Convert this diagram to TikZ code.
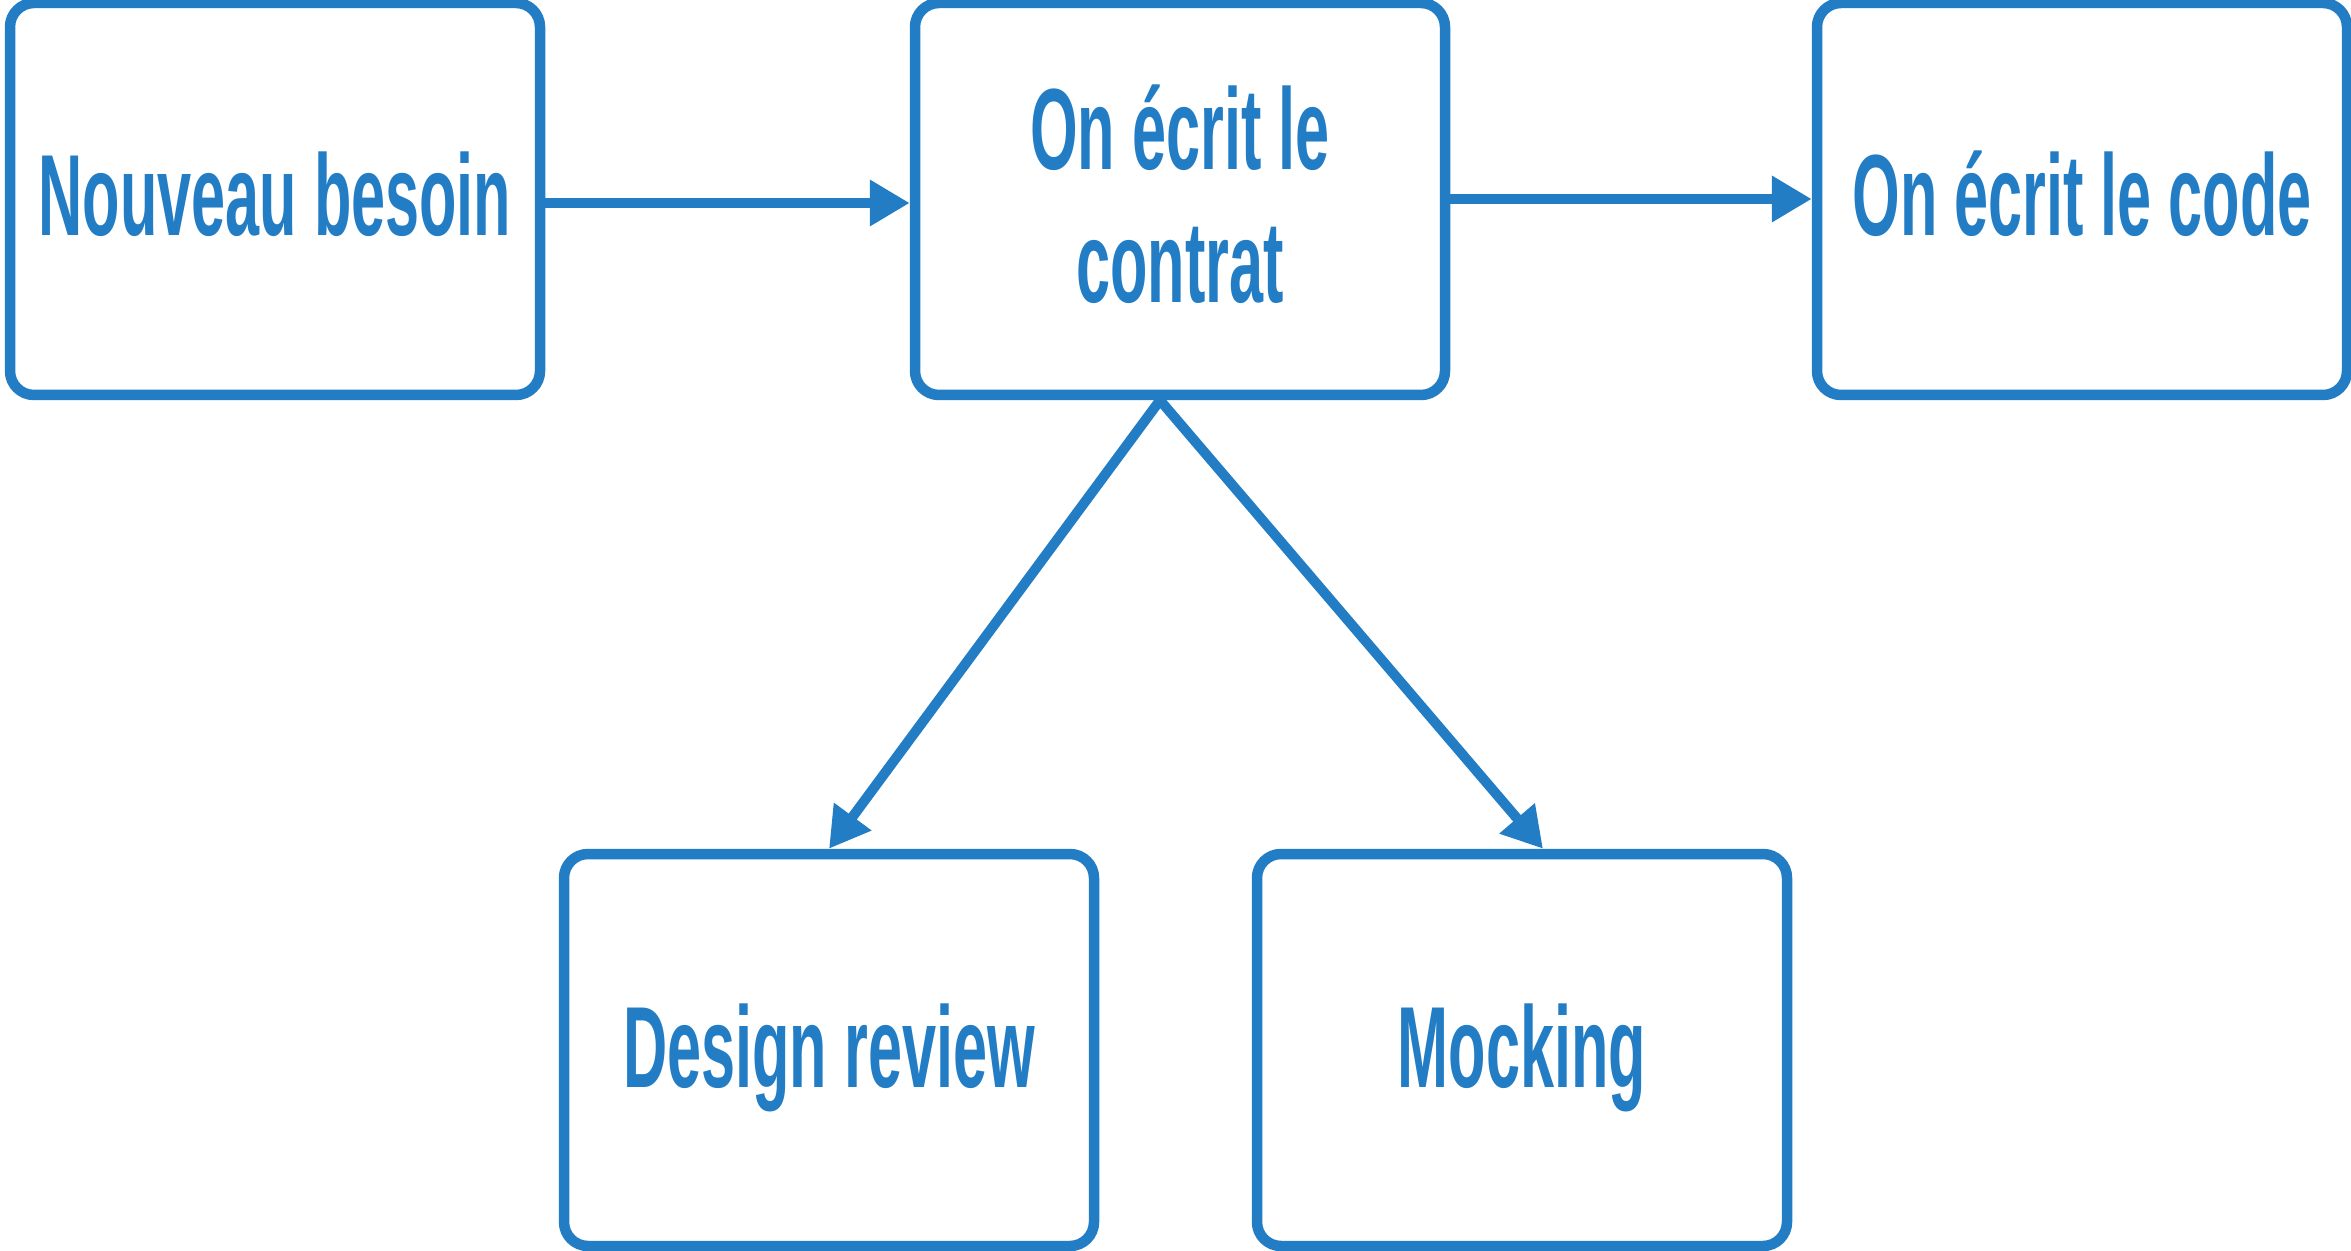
\documentclass[tikz,border=0pt]{standalone}
\usepackage{fontspec}
\usetikzlibrary{arrows.meta}
\newfontfamily\lblfont{Liberation Sans}[FakeStretch=0.53]
\definecolor{flowblue}{HTML}{237DC5}
\begin{document}
\begin{tikzpicture}[x=0.5pt,y=-0.5pt,
  box/.style={draw=flowblue, line width=5.25pt, rounded corners=12pt,
    minimum width=265pt, minimum height=196pt, inner sep=0pt,
    text=flowblue, font=\lblfont\bfseries\fontsize{57.75}{66.85}\selectfont,
    text height=37pt, text depth=0pt},
  flow/.style={draw=flowblue, line width=5pt,
    -{Triangle[length=20pt,width=22pt]}}]
\useasboundingbox (0,0) rectangle (2351,1251);

% workflow steps
\node[box] (need) at (275,199) {Nouveau besoin};
\node[box, align=center, text height=103.85pt] (contract) at (1180,199) {On écrit le\\contrat};
\node[box] (code) at (2082,199) {On écrit le code};
\node[box] (review) at (829,1050) {Design review};
\node[box] (mock) at (1522,1050) {Mocking};

% connectors
\draw[flow] ([yshift=-2pt]need.east) -- ([yshift=-2pt]contract.west);
\draw[flow] (contract.east) -- (code.west);
\draw[flow] ([xshift=-10pt]contract.south) -- (review.north);
\draw[flow] ([xshift=-10pt]contract.south) -- ([xshift=10.5pt]mock.north);
\end{tikzpicture}
\end{document}
